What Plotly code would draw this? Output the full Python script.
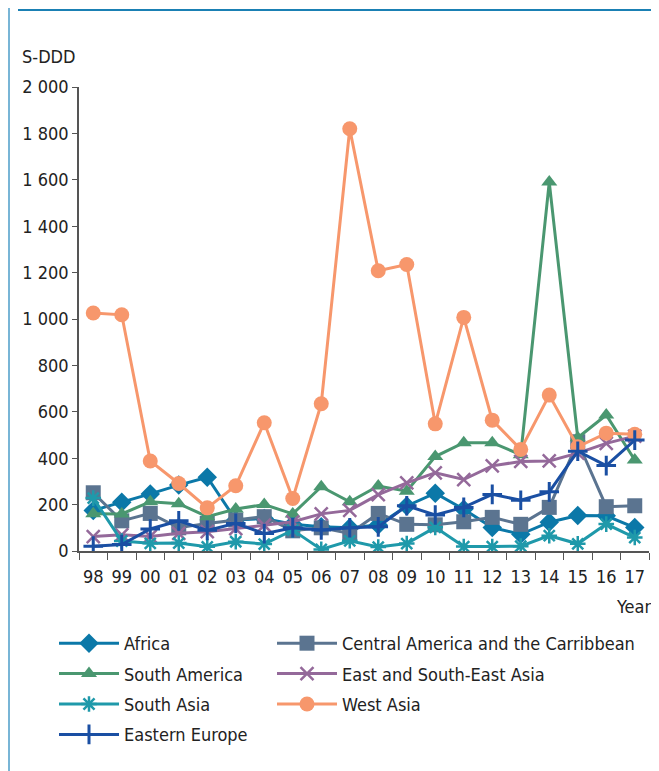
import plotly.graph_objects as go

years = ["98", "99", "00", "01", "02", "03", "04", "05", "06", "07",
         "08", "09", "10", "11", "12", "13", "14", "15", "16", "17"]

africa = [175, 210, 246, 284, 318, 134, 140, 115, 105, 100, 112, 194, 249, 180, 101, 72, 124, 153, 152, 101]
central_america = [251, 130, 162, 100, 119, 134, 148, 87, 100, 76, 162, 115, 113, 126, 145, 115, 188, 471, 191, 195]
south_america = [161, 160, 212, 204, 148, 181, 200, 160, 277, 212, 280, 258, 407, 467, 467, 415, 1590, 488, 586, 392]
east_se_asia = [62, 70, 63, 76, 83, 96, 111, 126, 160, 175, 243, 294, 337, 308, 367, 386, 388, 422, 464, 495]
south_asia = [228, 43, 33, 34, 18, 40, 30, 90, 7, 44, 17, 32, 102, 19, 19, 21, 66, 31, 116, 58]
west_asia = [1026, 1018, 388, 291, 186, 281, 553, 226, 635, 1820, 1208, 1235, 548, 1007, 564, 438, 672, 449, 508, 503]
eastern_europe = [21, 28, 95, 130, 89, 119, 75, 100, 91, 100, 104, 195, 155, 188, 244, 219, 255, 430, 368, 478]

FONT = "Liberation Sans Narrow, DejaVu Sans Condensed, Arial Narrow, sans-serif"

series = [
    ("Africa", africa, "#0b78a8", "diamond", 15, 0, "legend"),
    ("Central America and the Carribbean", central_america, "#5b7490", "square", 15, 0, "legend2"),
    ("South America", south_america, "#4a9770", "triangle-up", 14, 0, "legend"),
    ("East and South-East Asia", east_se_asia, "#94699a", "x-thin-open", 13, 2.5, "legend2"),
    ("South Asia", south_asia, "#1f99aa", "asterisk-open", 13, 2.5, "legend"),
    ("West Asia", west_asia, "#f7976c", "circle", 15, 0, "legend2"),
    ("Eastern Europe", eastern_europe, "#1a4fa3", "cross-thin-open", 14, 3, "legend"),
]

fig = go.Figure()
for name, vals, color, sym, size, lw, lg in series:
    marker = dict(symbol=sym, size=size, color=color)
    if lw:
        marker["line"] = dict(color=color, width=lw)
    fig.add_trace(go.Scatter(
        x=years, y=vals, name=name, mode="lines+markers", legendgroup=name,
        line=dict(color=color, width=3), marker=marker, legend=lg,
    ))

# page body has an 8px margin; figure sized so screen coords match reference
OFF = 8
W, H = 651, 763
L, R, T, B = 71, 10, 79, 220
pw = W - L - R
ph = H - T - B


def px(x):
    return (x - OFF - L) / pw


def py(y):
    return (H - B - (y - OFF)) / ph


fig.update_layout(
    width=W, height=H,
    margin=dict(l=L, r=R, t=T, b=B),
    paper_bgcolor="white", plot_bgcolor="white",
    font=dict(family=FONT, size=18, color="#222222"),
    separators=". ",
    showlegend=True,
    legend=dict(x=px(54), y=py(625), xanchor="left", yanchor="top",
                orientation="v", font=dict(size=18), tracegroupgap=4,
                itemwidth=60, bgcolor="rgba(0,0,0,0)"),
    legend2=dict(x=px(272), y=py(625), xanchor="left", yanchor="top",
                 orientation="v", font=dict(size=18), tracegroupgap=4,
                 itemwidth=60, bgcolor="rgba(0,0,0,0)"),
    xaxis=dict(type="category", range=[-0.5, 19.5], showgrid=False,
               showline=True, linecolor="#555555", linewidth=1.5,
               ticks="outside", ticklen=7, tickcolor="#555555",
               tickson="boundaries", tickangle=0, ticklabelstandoff=9,
               tickfont=dict(size=18)),
    yaxis=dict(range=[0, 2000], dtick=200, tickformat=",d", showgrid=False,
               showline=True, linecolor="#555555", linewidth=1.5,
               ticks="outside", ticklen=5, tickcolor="#555555",
               zeroline=False, tickfont=dict(size=18)),
    annotations=[
        dict(text="S-DDD", xref="paper", yref="paper", x=px(20), y=py(57),
             xanchor="left", yanchor="middle", showarrow=False, font=dict(size=18)),
        dict(text="Year", xref="paper", yref="paper", x=px(653), y=py(606),
             xanchor="right", yanchor="middle", showarrow=False, font=dict(size=18)),
    ],
    shapes=[
        dict(type="line", xref="paper", yref="paper", x0=px(9), x1=px(9),
             y0=py(8), y1=py(771), line=dict(color="#4b9cc9", width=1.5)),
        dict(type="line", xref="paper", yref="paper", x0=px(18), x1=px(659),
             y0=py(10), y1=py(10), line=dict(color="#1a80b4", width=2)),
    ],
)

fig.write_html("out.html")
